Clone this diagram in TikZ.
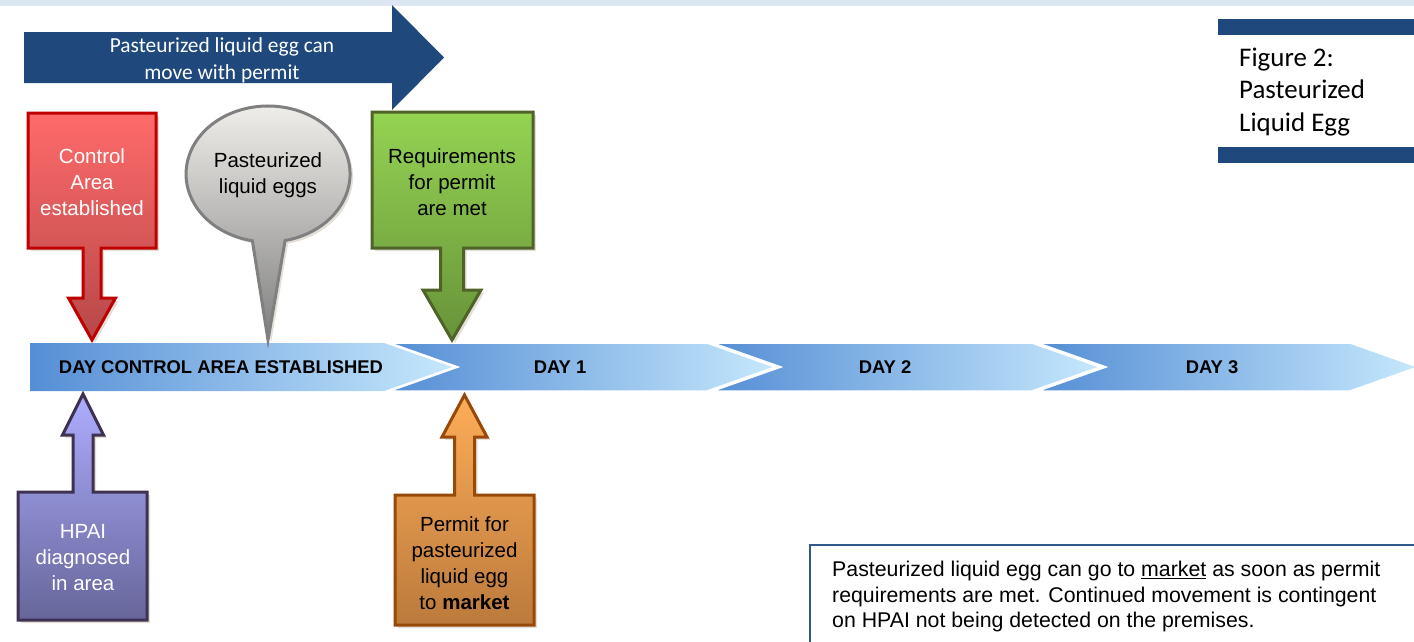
\documentclass[tikz,border=0pt]{standalone}
\usepackage{fontspec}
\setmainfont{Liberation Sans}
\newfontfamily\calibrifont{Carlito}
\usetikzlibrary{calc}
\definecolor{navy}{HTML}{1F497D}
\definecolor{band}{HTML}{DCE6F2}
\definecolor{redtop}{HTML}{FF6A6A}
\definecolor{redbot}{HTML}{B64848}
\definecolor{redline}{HTML}{C00000}
\definecolor{greentop}{HTML}{94D352}
\definecolor{greenbot}{HTML}{68933A}
\definecolor{greenline}{HTML}{4F6228}
\definecolor{purptop}{HTML}{ADADFF}
\definecolor{purpbot}{HTML}{66669A}
\definecolor{purpline}{HTML}{3F3151}
\definecolor{orgtop}{HTML}{FDAD58}
\definecolor{orgbot}{HTML}{BB7A3C}
\definecolor{orgline}{HTML}{984807}
\definecolor{graytop}{HTML}{F2F0EC}
\definecolor{graymid}{HTML}{CAC6C2}
\definecolor{graybot}{HTML}{7F7F7F}
\definecolor{grayline}{HTML}{808080}
\definecolor{chevL}{HTML}{558ED5}
\definecolor{chevR}{HTML}{C6E8FC}
\definecolor{boxline}{HTML}{2F5B8C}
\definecolor{shadowc}{HTML}{E4E0D8}
% down callout: x1 y1 x2 y2 cx stemhalf headhalf headbase tip
\newcommand\dncallout[9]{(#1,#2) -- (#3,#2) -- (#3,#4) -- ({#5+#6},#4) -- ({#5+#6},#8) -- ({#5+#7},#8) -- (#5,#9) -- ({#5-#7},#8) -- ({#5-#6},#8) -- ({#5-#6},#4) -- (#1,#4) -- cycle}
% up callout: x1 ytop x2 ybot cx stemhalf headhalf headbase tip
\newcommand\upcallout[9]{(#1,#2) -- ({#5-#6},#2) -- ({#5-#6},#8) -- ({#5-#7},#8) -- (#5,#9) -- ({#5+#7},#8) -- ({#5+#6},#8) -- ({#5+#6},#2) -- (#3,#2) -- (#3,#4) -- (#1,#4) -- cycle}
\newcommand\balloonpath{(252.4,240.75) arc[start angle=101, end angle=438, x radius=82, y radius=68] -- (268,340) -- (252.4,240.75) -- cycle}
\tikzset{
  calltext/.style={align=center, inner sep=0pt, font=\fontsize{20.5}{26}\selectfont},
  daytext/.style={inner sep=0pt, font=\fontsize{18.4}{20}\selectfont\bfseries},
  chev/.style={left color=chevL, right color=chevR, draw=white, line width=1.5pt},
  shad/.style={fill=shadowc, shift={(3,3)}},
  callborder/.style={line width=3pt, line join=miter}
}
\begin{document}
\begin{tikzpicture}[x=1pt, y=-1pt]
\useasboundingbox (0,0) rectangle (1414,641);
\fill[white] (0,0) rectangle (1414,641);
% top band
\fill[band] (0,0) rectangle (1414,5.5);
% top arrow
\fill[navy] (24,32) -- (392,32) -- (392,5) -- (444,57.5) -- (392,110) -- (392,83) -- (24,83) -- cycle;
\node[align=center, inner sep=0pt, text=white, font=\calibrifont\fontsize{21.4}{26.5}\selectfont] (toparrow) at (222,60.5) {Pasteurized liquid egg can\\move with permit};
% figure label
\fill[navy] (1218,19) rectangle (1416,35);
\fill[navy] (1218,147) rectangle (1416,163);
\node[anchor=west, align=left, inner sep=0pt, font=\calibrifont\fontsize{26.9}{32.5}\selectfont] (figlabel) at (1239,92) {Figure 2:\\Pasteurized\\Liquid Egg};
% timeline
\shade[left color=chevL, right color=chevR] (30,343) -- (384,343) -- (452,367) -- (384,391) -- (30,391) -- cycle;
\shadedraw[chev] (390,343) -- (707,343) -- (775,367) -- (707,391) -- (390,391) -- (458,367) -- cycle;
\shadedraw[chev] (713,343) -- (1032,343) -- (1100,367) -- (1032,391) -- (713,391) -- (781,367) -- cycle;
\shadedraw[chev] (1038,343) -- (1350,343) -- (1418,367) -- (1350,391) -- (1038,391) -- (1106,367) -- cycle;
\node[daytext] (day0) at (221,367) {DAY CONTROL AREA ESTABLISHED};
\node[daytext] (day1) at (560,367) {DAY 1};
\node[daytext] (day2) at (885,367) {DAY 2};
\node[daytext] (day3) at (1212,367) {DAY 3};
% red callout
\fill[shad] \dncallout{28}{113}{156}{248}{92}{9}{23.5}{298}{340};
\shadedraw[top color=redtop, bottom color=redbot, draw=redline, callborder] \dncallout{28}{113}{156}{248}{92}{9}{23.5}{298}{340};
\node[calltext, text=white] (control) at (92,182) {Control\\Area\\established};
% green callout
\fill[shad] \dncallout{372}{112}{533}{248}{452}{11.5}{29}{290}{340};
\shadedraw[top color=greentop, bottom color=greenbot, draw=greenline, callborder] \dncallout{372}{112}{533}{248}{452}{11.5}{29}{290}{340};
\node[calltext] (require) at (452,182) {Requirements\\for permit\\are met};
% balloon
\fill[shad] \balloonpath;
\shadedraw[top color=graytop, middle color=graymid, bottom color=graybot, draw=grayline, callborder] \balloonpath;
\node[calltext] (balloon) at (268,175) {Pasteurized\\liquid eggs};
% purple callout
\fill[shad] \upcallout{18}{492}{147}{620}{83}{10}{20.5}{435}{394};
\shadedraw[top color=purptop, bottom color=purpbot, draw=purpline, callborder] \upcallout{18}{492}{147}{620}{83}{10}{20.5}{435}{394};
\node[calltext, text=white] (hpai) at (83,558) {HPAI\\diagnosed\\in area};
% orange callout
\fill[shad] \upcallout{395}{495}{534}{625}{464.5}{10}{22.5}{437}{395};
\shadedraw[top color=orgtop, bottom color=orgbot, draw=orgline, callborder] \upcallout{395}{495}{534}{625}{464.5}{10}{22.5}{437}{395};
\node[calltext] (permit) at (464.5,563) {Permit for\\pasteurized\\liquid egg\\to \textbf{market}};
% bottom note
\fill[shadowc] (813,548) rectangle (1420,650);
\draw[boxline, line width=2.5pt, fill=white] (810,545) rectangle (1420,650);
\node[anchor=north west, align=left, inner sep=0pt, font=\fontsize{21.3}{25.5}\selectfont] (note) at (832,561) {Pasteurized liquid egg can go to \underline{market} as soon as permit\\requirements are met. Continued movement is contingent\\on HPAI not being detected on the premises.};
\end{tikzpicture}
\end{document}
